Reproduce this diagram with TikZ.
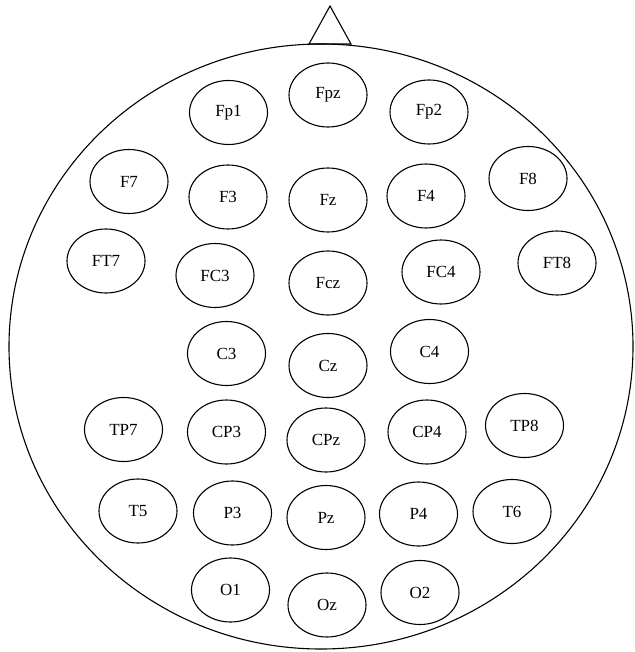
\documentclass[tikz,border=0pt]{standalone}
\usepackage{fontspec}
\setmainfont{Liberation Serif}
\usetikzlibrary{shapes.geometric}

\begin{document}
\begin{tikzpicture}[
  x=1pt, y=-1pt,
  elec/.style={draw, ellipse, line width=1.1pt, minimum width=78pt, minimum height=64pt, inner sep=0pt, font=\fontsize{17}{17}\selectfont},
  head/.style={draw, line width=1.1pt}
]
\useasboundingbox (0,0) rectangle (634,652);
% head and nose
\draw[head] (321,346.5) ellipse [x radius=312, y radius=302.5];
\draw[head, line join=miter] (309,44) -- (330,6) -- (351,44) -- cycle;

% frontal
\node[elec] (fpz) at (328,95)    {Fpz};
\node[elec] (fp1) at (228.5,112.5) {Fp1};
\node[elec] (fp2) at (429,112)   {Fp2};
\node[elec] (f7)  at (129,181.5) {F7};
\node[elec] (f3)  at (228,197)   {F3};
\node[elec] (fz)  at (328,200)   {Fz};
\node[elec] (f4)  at (426,196)   {F4};
\node[elec] (f8)  at (528,178.5) {F8};
\node[elec] (ft7) at (106,261)   {FT7};
\node[elec] (fc3) at (215,275.5) {FC3};
\node[elec] (fcz) at (328,283)   {Fcz};
\node[elec] (fc4) at (441,272)   {FC4};
\node[elec] (ft8) at (557,263)   {FT8};
% central
\node[elec] (c3)  at (226.5,353.5) {C3};
\node[elec] (cz)  at (328,365.5) {Cz};
\node[elec] (c4)  at (429.5,351.5) {C4};
\node[elec] (tp7) at (123.5,429.5) {TP7};
\node[elec] (cp3) at (226.5,432) {CP3};
\node[elec] (cpz) at (326,440)   {CPz};
\node[elec] (cp4) at (427,432)   {CP4};
\node[elec] (tp8) at (524.5,425.5) {TP8};
% parietal, occipital
\node[elec] (t5)  at (138,511)   {T5};
\node[elec] (p3)  at (232.5,513) {P3};
\node[elec] (pz)  at (326,517.5) {Pz};
\node[elec] (p4)  at (418.5,514) {P4};
\node[elec] (t6)  at (512,511.5) {T6};
\node[elec] (o1)  at (230.5,590) {O1};
\node[elec] (oz)  at (327,605)   {Oz};
\node[elec] (o2)  at (420,592.5) {O2};
\end{tikzpicture}
\end{document}
